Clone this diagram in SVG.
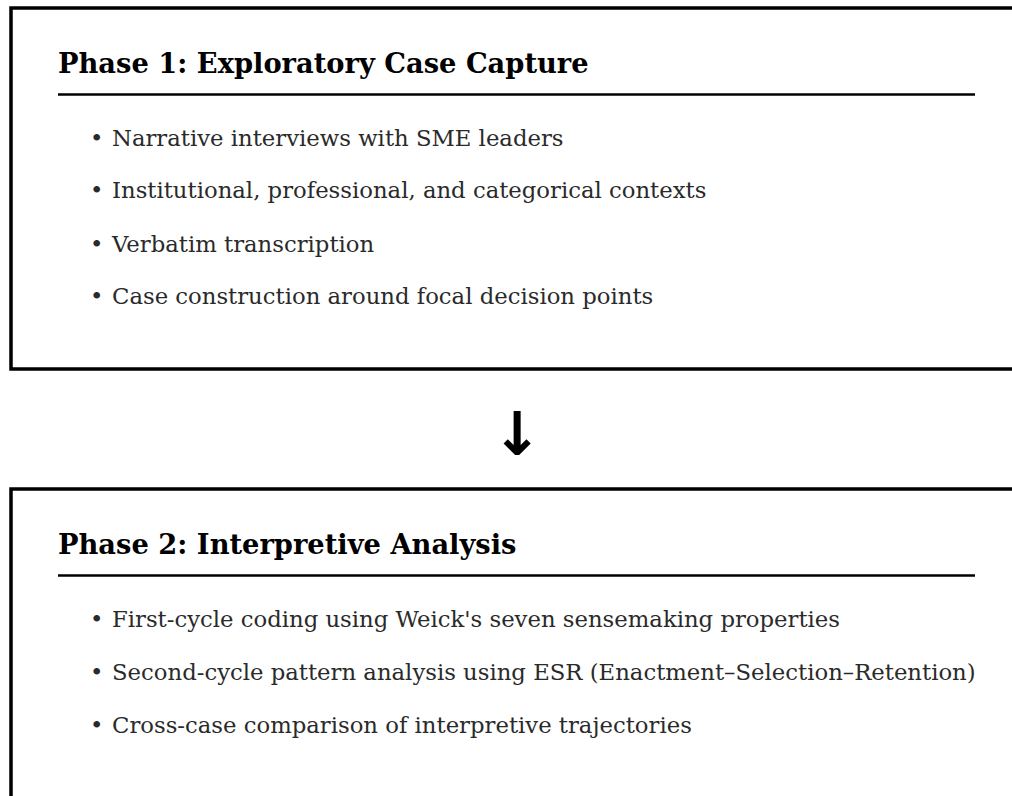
<svg xmlns="http://www.w3.org/2000/svg" width="1012" height="796" viewBox="0 0 1012 796">
<style>
.box{fill:#fff;stroke:#000;stroke-width:3.5}
.rule{stroke:#000;stroke-width:2.5}
.h{font-family:"DejaVu Serif",serif;font-weight:bold;font-size:27.3px;fill:#000}
.b{font-family:"DejaVu Serif",serif;font-size:22.75px;fill:#2a2a2a}
.arr{font-family:"DejaVu Sans",sans-serif;font-weight:bold;font-size:60px;fill:#000}
</style>
<rect width="1012" height="796" fill="#fff"/>
<g id="phase1">
<rect class="box" x="11" y="8" width="1010" height="361"/>
<text class="h" x="58" y="73">Phase 1: Exploratory Case Capture</text>
<line class="rule" x1="58" y1="94.5" x2="975" y2="94.5"/>
<text class="b" x="90" y="146">•</text><text class="b" x="112" y="146">Narrative interviews with SME leaders</text>
<text class="b" x="90" y="198">•</text><text class="b" x="112" y="198">Institutional, professional, and categorical contexts</text>
<text class="b" x="90" y="252">•</text><text class="b" x="112" y="252">Verbatim transcription</text>
<text class="b" x="90" y="304">•</text><text class="b" x="112" y="304">Case construction around focal decision points</text>
</g>
<g id="connectors">
<text class="arr" x="517" y="455" text-anchor="middle">↓</text>
</g>
<g id="phase2">
<rect class="box" x="11" y="489" width="1010" height="320"/>
<text class="h" x="58" y="554">Phase 2: Interpretive Analysis</text>
<line class="rule" x1="58" y1="575.5" x2="975" y2="575.5"/>
<text class="b" x="90" y="627">•</text><text class="b" x="112" y="627">First-cycle coding using Weick's seven sensemaking properties</text>
<text class="b" x="90" y="680">•</text><text class="b" x="112" y="680">Second-cycle pattern analysis using ESR (Enactment–Selection–Retention)</text>
<text class="b" x="90" y="733">•</text><text class="b" x="112" y="733">Cross-case comparison of interpretive trajectories</text>
</g>
</svg>
